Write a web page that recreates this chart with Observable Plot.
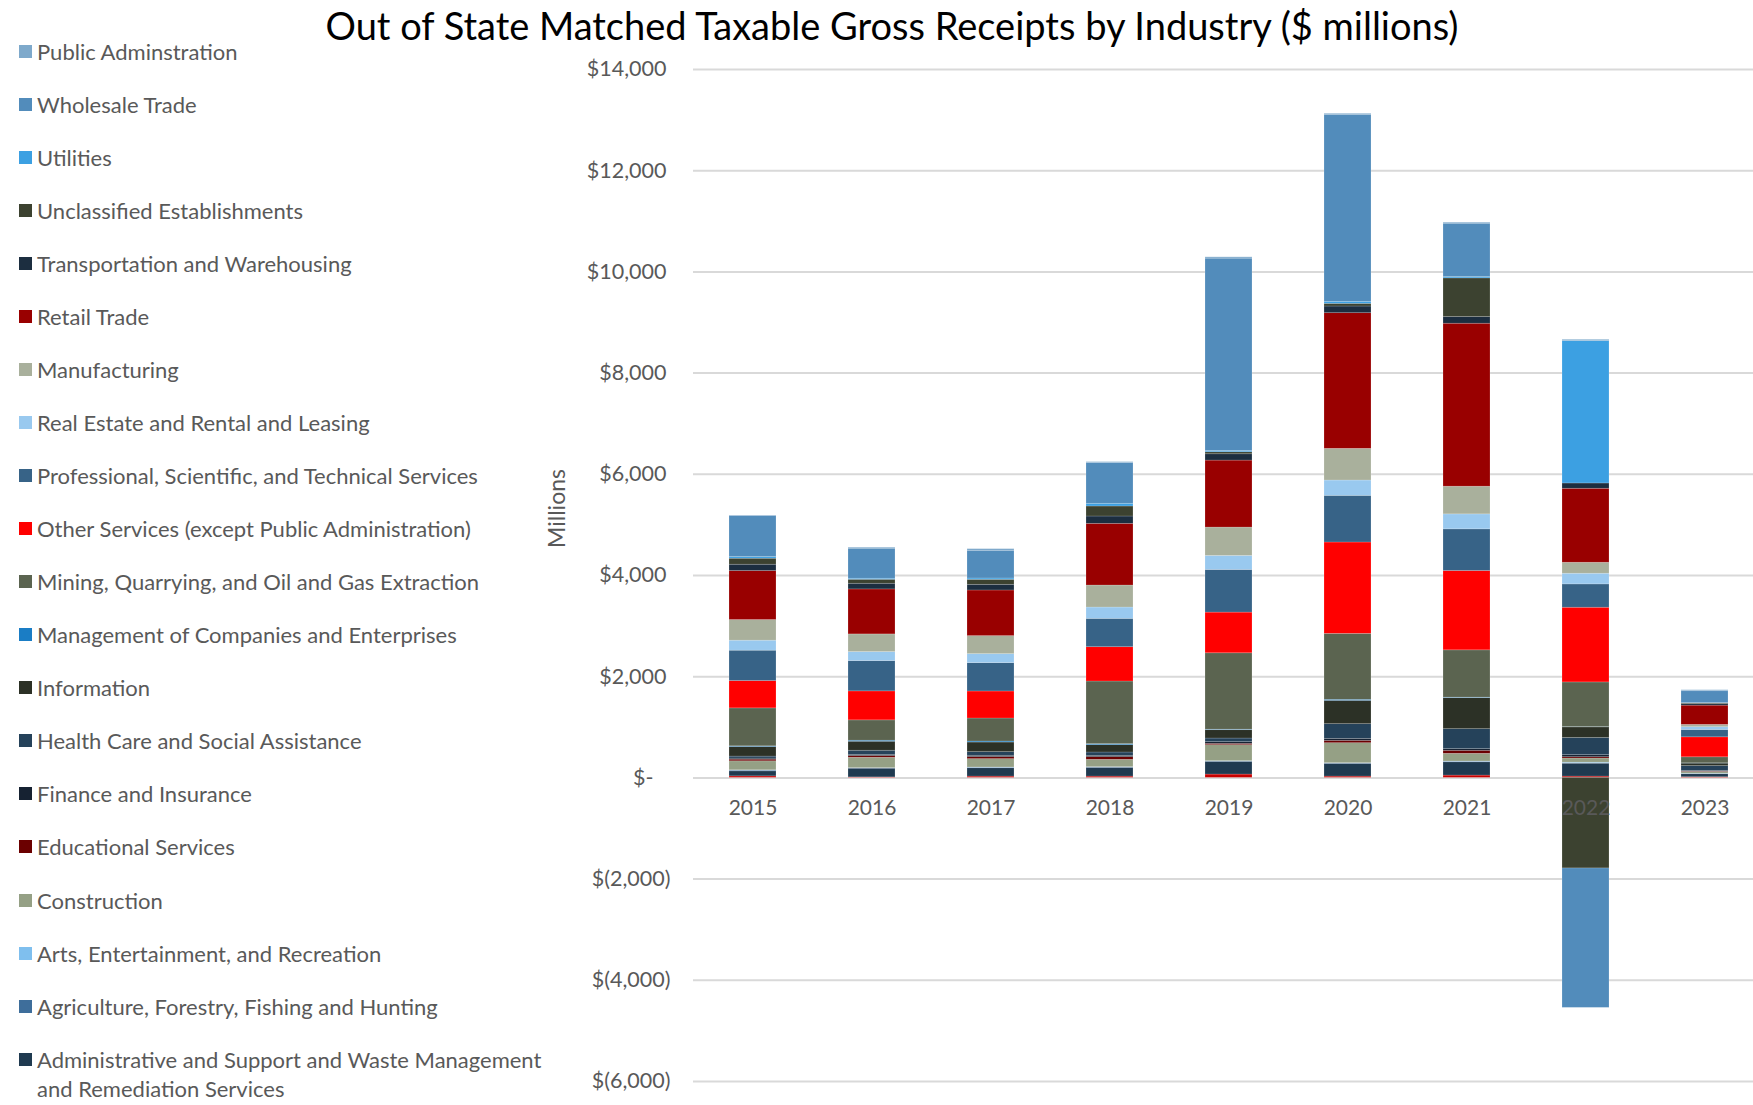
<!DOCTYPE html>
<html>
<head>
<meta charset="utf-8">
<script src="https://cdn.jsdelivr.net/npm/d3@7"></script>
<script src="https://cdn.jsdelivr.net/npm/@observablehq/plot@0.6"></script>
<style>
  html, body { margin: 0; padding: 0; background: #fff; }
  #wrap { position: relative; width: 1753px; height: 1105px; overflow: hidden; font-family: Lato, "Open Sans", sans-serif; }
  #chart { position: absolute; left: 0; top: 0; }
  #title { position: absolute; left: 892px; top: 0; transform: translateX(-50%); white-space: nowrap; font-size: 38px; line-height: 50px; color: #000; }
  #legend { position: absolute; left: 19px; top: 36.5px; display: flex; flex-direction: column; row-gap: 24.07px; }
  .item { display: flex; align-items: flex-start; font-size: 22px; line-height: 29px; color: #595959; }
  .sw { width: 13px; height: 13px; margin-top: 8px; margin-right: 5px; flex: none; }
  .lab { max-width: 520px; }
</style>
</head>
<body>
<div id="wrap">
  <div id="chart"></div>
  <div id="title">Out of State Matched Taxable Gross Receipts by Industry ($ millions)</div>
  <div id="legend"></div>
</div>
<script>
// ---- Data ($ millions), years 2015..2023 ----
const years = ["2015", "2016", "2017", "2018", "2019", "2020", "2021", "2022", "2023"];

// Series listed bottom -> top of each stack
const accommodation  = [30, 10, 26, 26, 66, 26, 46, 26, 13];
const administrative = [100, 172, 165, 171, 250, 250, 263, 255, 60];
const agriculture    = [15, 8, 10, 10, 10, 10, 10, 5, 5];
const arts           = [5, 3, 5, 5, 5, 5, 5, 15, 5];
const construction   = [178, 205, 165, 145, 316, 395, 152, 82, 30];
const educational    = [33, 33, 40, 53, 26, 46, 59, 26, 10];
const finance        = [20, 20, 26, 26, 33, 40, 33, 40, 15];
const healthCare     = [40, 86, 72, 66, 72, 290, 395, 340, 95];
const information    = [190, 178, 190, 145, 165, 461, 613, 210, 50];
const management     = [13, 20, 20, 20, 10, 20, 10, 5, 5];
const mining         = [750, 402, 455, 1238, 1510, 1304, 935, 883, 119];
const otherServices  = [540, 573, 534, 678, 804, 1805, 1568, 1476, 395];
const professional   = [600, 599, 560, 560, 843, 922, 823, 461, 145];
const realEstate     = [198, 178, 178, 224, 277, 303, 296, 211, 55];
const manufacturing  = [408, 349, 356, 435, 560, 626, 547, 217, 46];
const retail         = [968, 889, 902, 1219, 1324, 2681, 3221, 1462, 380];
const transportation = [125, 112, 112, 145, 125, 132, 132, 105, 30];
const unclassified   = [119, 79, 99, 198, 40, 53, 764, -1790, 15];
const utilities      = [33, 20, 26, 53, 26, 40, 26, 2813, 5];
const wholesale      = [810, 593, 547, 804, 3800, 3695, 1054, -2755, 235];
const publicAdmin    = [10, 20, 33, 20, 26, 20, 20, 26, 20];

const seriesNames = [
  "Accommodation and Food Services",
  "Administrative and Support and Waste Management and Remediation Services",
  "Agriculture, Forestry, Fishing and Hunting",
  "Arts, Entertainment, and Recreation",
  "Construction",
  "Educational Services",
  "Finance and Insurance",
  "Health Care and Social Assistance",
  "Information",
  "Management of Companies and Enterprises",
  "Mining, Quarrying, and Oil and Gas Extraction",
  "Other Services (except Public Administration)",
  "Professional, Scientific, and Technical Services",
  "Real Estate and Rental and Leasing",
  "Manufacturing",
  "Retail Trade",
  "Transportation and Warehousing",
  "Unclassified Establishments",
  "Utilities",
  "Wholesale Trade",
  "Public Adminstration"
];
const seriesValues = [accommodation, administrative, agriculture, arts, construction, educational,
  finance, healthCare, information, management, mining, otherServices, professional, realEstate,
  manufacturing, retail, transportation, unclassified, utilities, wholesale, publicAdmin];
const seriesColors = [
  "#c80000", "#1f3a50", "#3e6e9b", "#7fbfee", "#95a085", "#6b0000",
  "#162232", "#25425a", "#2c3126", "#1a7dc5", "#5b6450", "#ff0000",
  "#376387", "#99c9ef", "#a9b09c", "#990000", "#1c2e40", "#3c4230",
  "#3ca0e2", "#528cbb", "#7ea9cb"
];
// The reference legend box is cut off after its 20th entry (the bottom series is not listed)
const legendCount = 20;
const yTicks = [-6000, -4000, -2000, 0, 2000, 4000, 6000, 8000, 10000, 12000, 14000];

// ---- Build table ----
const rows = [];
seriesNames.forEach((name, i) => {
  years.forEach((yr, j) => rows.push({ year: yr, industry: name, value: seriesValues[i][j] }));
});

const fmtNum = d3.format(",");
const fmt = d => d > 0 ? "$" + fmtNum(d) : d < 0 ? "$(" + fmtNum(-d) + ")" : "$-";
const labelStyle = { fill: "#595959", fontSize: 21.5, textAnchor: "end", frameAnchor: "left", text: fmt, y: d => d };

const chart = Plot.plot({
  width: 1753,
  height: 1105,
  marginLeft: 693,
  marginRight: 0,
  marginTop: 69,
  marginBottom: 24,
  style: { background: "transparent", fontFamily: "Lato, 'Open Sans', sans-serif", overflow: "visible" },
  x: { type: "band", domain: years, range: [727.5, 1729.5], paddingInner: 0.606, paddingOuter: 0, axis: null },
  y: { domain: [-6000, 14000], axis: null },
  color: { domain: seriesNames, range: seriesColors },
  marks: [
    Plot.ruleY(yTicks, { stroke: "#d9d9d9", strokeWidth: 2 }),
    Plot.barY(rows, { x: "year", y: "value", z: "industry", fill: "industry",
      stroke: "#ffffff", strokeOpacity: 0.25, strokeWidth: 0.7 }),
    Plot.text(yTicks.filter(d => d > 0), { ...labelStyle, dx: -27 }),
    Plot.text(yTicks.filter(d => d < 0), { ...labelStyle, dx: -23 }),
    Plot.text(yTicks.filter(d => d === 0), { ...labelStyle, dx: -40 }),
    Plot.text(years, { x: d => d, y: d => 0, text: d => d, dy: 30, fontSize: 21, fill: "#595959" }),
    Plot.text(["Millions"], { text: d => d, frameAnchor: "left", textAnchor: "middle", dx: -136, dy: -67, rotate: -90, fontSize: 23, fill: "#595959" })
  ]
});
document.getElementById("chart").appendChild(chart);

// ---- Legend (top of stack first) ----
const legend = d3.select("#legend");
seriesNames.map((n, i) => ({ n, c: seriesColors[i] })).reverse().slice(0, legendCount).forEach(({ n, c }) => {
  const item = legend.append("div").attr("class", "item");
  item.append("div").attr("class", "sw").style("background", c);
  item.append("div").attr("class", "lab").text(n);
});
</script>
</body>
</html>
